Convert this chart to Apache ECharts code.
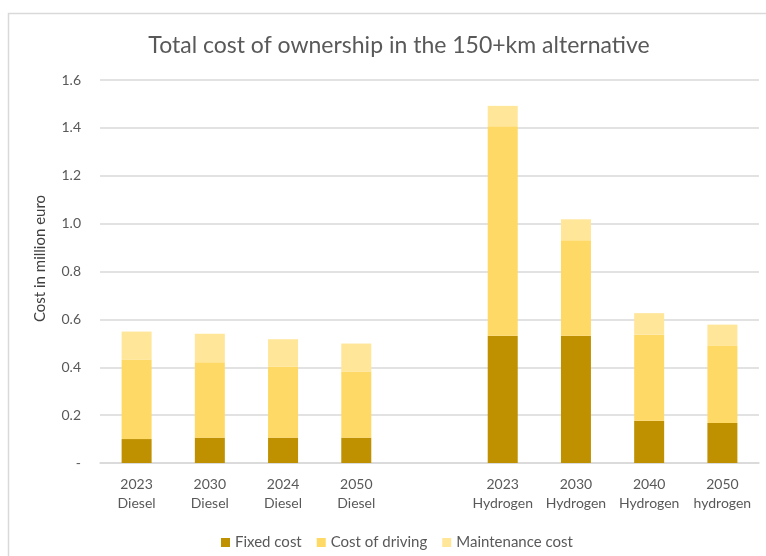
<!DOCTYPE html>
<html>
<head>
<meta charset="utf-8">
<script src="https://cdn.jsdelivr.net/npm/echarts@6/dist/echarts.min.js"></script>
<style>html,body{margin:0;padding:0;background:#fff;}#c{width:766px;height:556px;}</style>
</head>
<body>
<div id="c"></div>
<script>
const categories = ['2023\nDiesel', '2030\nDiesel', '2024\nDiesel', '2050\nDiesel', '', '2023\nHydrogen', '2030\nHydrogen', '2040\nHydrogen', '2050\nhydrogen'];
const fixedCost = [0.100, 0.106, 0.106, 0.106, null, 0.532, 0.532, 0.177, 0.167];
const drivingCost = [0.332, 0.315, 0.297, 0.276, null, 0.875, 0.399, 0.359, 0.322];
const maintenanceCost = [0.117, 0.119, 0.114, 0.117, null, 0.085, 0.087, 0.090, 0.089];
const seriesNames = ['Fixed cost', 'Cost of driving', 'Maintenance cost'];
const yTicks = { min: 0, max: 1.6, interval: 0.2 };

const font = 'Lato, "Open Sans", sans-serif';
const chart = echarts.init(document.getElementById('c'));
const colors = ['#BF9000', '#FFD966', '#FFE699'];
const data = [fixedCost, drivingCost, maintenanceCost];
chart.setOption({
  animation: false,
  color: colors,
  title: {
    text: 'Total cost of ownership in the 150+km alternative',
    left: 394, top: 29, textAlign: 'center',
    textStyle: { fontFamily: font, fontSize: 23, fontWeight: 'normal', color: '#595959' }
  },
  graphic: [{
    type: 'polyline',
    shape: { points: [[8.5, 556], [8.5, 13.5], [766, 13.5]] },
    style: { stroke: '#d9d9d9', lineWidth: 1.5, fill: null }
  }],
  legend: {
    data: seriesNames,
    left: 216, top: 530,
    itemWidth: 9, itemHeight: 9, itemGap: 15,
    icon: 'rect',
    textStyle: { fontFamily: font, fontSize: 15, color: '#595959' }
  },
  grid: { left: 100, right: 7, top: 80, bottom: 93 },
  xAxis: {
    type: 'category',
    data: categories,
    axisLine: { lineStyle: { color: '#d9d9d9', width: 1.5 } },
    axisTick: { show: false },
    axisLabel: { fontFamily: font, fontSize: 14, color: '#595959', lineHeight: 19, margin: 12, interval: 0 }
  },
  yAxis: {
    type: 'value',
    min: yTicks.min, max: yTicks.max, interval: yTicks.interval,
    name: 'Cost in million euro',
    nameLocation: 'middle', nameGap: 52, nameRotate: 90,
    nameTextStyle: { fontFamily: font, fontSize: 15, color: '#404040', padding: [0, 0, 0, 26] },
    axisLine: { show: false },
    axisTick: { show: false },
    splitLine: { lineStyle: { color: '#d9d9d9', width: 1.5 } },
    axisLabel: {
      fontFamily: font, fontSize: 14, color: '#595959', margin: 19,
      formatter: v => v === 0 ? '-' : v.toFixed(1)
    }
  },
  series: seriesNames.map((n, i) => ({
    name: n, type: 'bar', stack: 'total', barWidth: 30,
    data: data[i],
    itemStyle: { color: colors[i] }
  }))
});
</script>
</body>
</html>
